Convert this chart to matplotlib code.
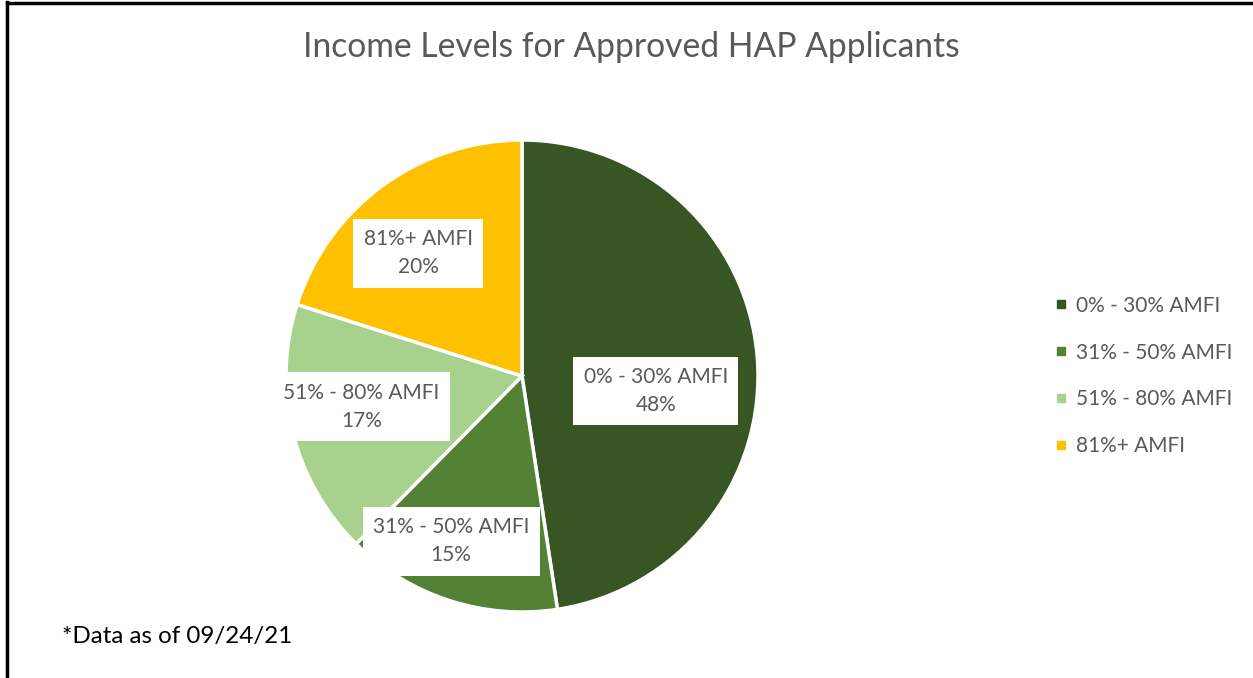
import numpy as np
import matplotlib.pyplot as plt
from matplotlib.lines import Line2D

plt.rcParams['font.family'] = ['Lato', 'DejaVu Sans']

categories = ['0% - 30% AMFI', '31% - 50% AMFI', '51% - 80% AMFI', '81%+ AMFI']
shares = [47.6, 14.8, 17.5, 20.1]
pct_labels = ['48%', '15%', '17%', '20%']
colors = ['#375623', '#548235', '#A9D18E', '#FFC000']
# label placement: fraction of radius and angle shift (deg) from wedge middle
label_radius = [0.571, 0.762, 0.692, 0.681]
label_shift = [-10.7, -5.2, -3.0, 4.0]
grey = '#595959'

W, H = 1253, 678
fig = plt.figure(figsize=(W / 100, H / 100), dpi=100)

# frame (only left and top edges visible in the reference)
fig.add_artist(Line2D([7 / W, 7 / W], [0, 1 - 2 / H], color='black', lw=2.5))
fig.add_artist(Line2D([7 / W, 1], [1 - 3 / H, 1 - 3 / H], color='black', lw=2.5))

# pie axes: centre (522, 376) px, radius 236 px
cx, cy, r = 522, 376, 236
ax = fig.add_axes([(cx - r) / W, (H - cy - r) / H, 2 * r / W, 2 * r / H])
wedges, _ = ax.pie(shares, colors=colors, startangle=90, counterclock=False,
                   wedgeprops=dict(edgecolor='white', linewidth=2.5))
ax.set_xlim(-1, 1)
ax.set_ylim(-1, 1)
ax.set_aspect('equal')
ax.axis('off')

for w, cat, pl, lr, sh in zip(wedges, categories, pct_labels, label_radius, label_shift):
    ang = np.deg2rad((w.theta1 + w.theta2) / 2 + sh)
    ax.text(lr * np.cos(ang), lr * np.sin(ang), f'{cat}\n{pl}',
            ha='center', va='center', fontsize=15, color=grey,
            linespacing=1.5,
            bbox=dict(boxstyle='square,pad=0.5', fc='white', ec='none'))

fig.text(631 / W, 1 - 47 / H, 'Income Levels for Approved HAP Applicants',
         ha='center', va='center', fontsize=24.2, color=grey)

handles = [Line2D([], [], marker='s', ls='none', markersize=5.5,
                  markerfacecolor=c, markeredgecolor=c) for c in colors]
leg = fig.legend(handles, categories, loc='center left',
                 bbox_to_anchor=(1032 / W, 1 - 376 / H), frameon=False,
                 fontsize=15, labelspacing=1.29, handletextpad=0.2,
                 handlelength=1.0)
for t in leg.get_texts():
    t.set_color(grey)

fig.text(62 / W, 1 - 637 / H, '*Data as of 09/24/21', ha='left', va='center',
         fontsize=17.4, color='black')

fig.savefig('out.png', dpi=100)
